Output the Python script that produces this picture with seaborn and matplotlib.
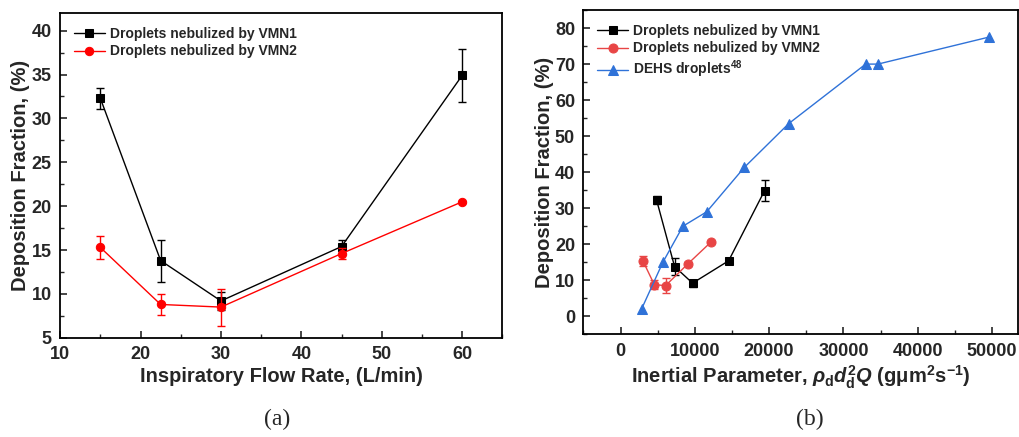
import numpy as np
import pandas as pd
import seaborn as sns
import matplotlib.pyplot as plt
from matplotlib.ticker import MultipleLocator

# panel (a): flow rate data
flow = [15, 22.5, 30, 45, 60]
vmn1 = [32.3, 13.8, 9.2, 15.4, 34.9]
vmn1_err = [1.2, 2.4, 1.0, 0.7, 3.0]
vmn2 = [15.3, 8.8, 8.5, 14.6, 20.5]
vmn2_err = [1.3, 1.2, 2.1, 0.6, 0.1]

# panel (b): inertial parameter
ip_vmn1 = [4850, 7275, 9700, 14550, 19400]
ip_vmn2 = [3030, 4545, 6060, 9090, 12120]
ip_dehs = [2830, 5700, 8400, 11600, 16650, 22650, 33000, 34650, 49600]
dehs = [2.0, 15.0, 25.0, 29.0, 41.3, 53.5, 70.0, 70.0, 77.5]

sns.set_style('ticks')
plt.rcParams['font.family'] = ['Liberation Sans', 'DejaVu Sans']
plt.rcParams['font.weight'] = 'bold'
plt.rcParams['mathtext.fontset'] = 'custom'
plt.rcParams['mathtext.rm'] = 'Liberation Sans:bold'
plt.rcParams['mathtext.it'] = 'Liberation Sans:italic:bold'
plt.rcParams['mathtext.bf'] = 'Liberation Sans:bold'

fig = plt.figure(figsize=(10.19, 4.37), dpi=100)
ax1 = fig.add_axes([0.059, 0.227, 0.434, 0.743])
ax2 = fig.add_axes([0.5725, 0.235, 0.4265, 0.742])

black = '#000000'
red_a = '#ff0000'
red_b = '#e84545'
blue = '#2f72d8'


def series(ax, x, y, err, color, marker, label, ms=6):
    df = pd.DataFrame({'x': x, 'y': y})
    sns.lineplot(data=df, x='x', y='y', ax=ax, color=color, marker=marker,
                 markersize=ms, markeredgecolor=color, linewidth=1,
                 label=label, sort=False)
    if err is not None:
        ax.errorbar(x, y, yerr=err, fmt='none', ecolor=color, elinewidth=1,
                    capsize=3, capthick=1)


series(ax1, flow, vmn1, vmn1_err, black, 's', 'Droplets nebulized by VMN1')
series(ax1, flow, vmn2, vmn2_err, red_a, 'o', 'Droplets nebulized by VMN2')

series(ax2, ip_vmn1, vmn1, vmn1_err, black, 's', 'Droplets nebulized by VMN1')
series(ax2, ip_vmn2, vmn2, vmn2_err, red_b, 'o', 'Droplets nebulized by VMN2', ms=6.5)
series(ax2, ip_dehs, dehs, None, blue, '^', r'DEHS droplets$^{48}$', ms=7)

ax1.set_xlim(10, 65)
ax1.set_ylim(5, 42)
ax1.xaxis.set_major_locator(MultipleLocator(10))
ax1.xaxis.set_minor_locator(MultipleLocator(5))
ax1.yaxis.set_major_locator(MultipleLocator(5))
ax1.yaxis.set_minor_locator(MultipleLocator(2.5))
ax1.set_xlabel('Inspiratory Flow Rate, (L/min)', fontsize=14.5, fontweight='bold')
ax1.set_ylabel('Deposition Fraction, (%)', fontsize=14.5, fontweight='bold')

ax2.set_xlim(-5000, 53500)
ax2.set_ylim(-5, 85)
ax2.xaxis.set_major_locator(MultipleLocator(10000))
ax2.xaxis.set_minor_locator(MultipleLocator(5000))
ax2.yaxis.set_major_locator(MultipleLocator(10))
ax2.yaxis.set_minor_locator(MultipleLocator(5))
ax2.set_xticks([0, 10000, 20000, 30000, 40000, 50000])
ax2.set_yticks([0, 10, 20, 30, 40, 50, 60, 70, 80])
ax2.set_xlabel(r'Inertial Parameter, $\rho_\mathrm{d}d_\mathrm{d}^2Q$ (gμm$^\mathrm{2}$s$^\mathrm{-1}$)',
               fontsize=14.5, fontweight='bold')
ax2.set_ylabel('Deposition Fraction, (%)', fontsize=14.5, fontweight='bold')

for ax in (ax1, ax2):
    for side in ax.spines.values():
        side.set_visible(True)
        side.set_linewidth(1.3)
        side.set_color('black')
    ax.tick_params(which='major', direction='in', length=5, width=1.2,
                   labelsize=13, pad=6, top=False, right=False)
    ax.tick_params(which='minor', direction='in', length=3, width=1.0,
                   top=False, right=False)
    for lbl in ax.get_xticklabels() + ax.get_yticklabels():
        lbl.set_fontweight('bold')
    ax.xaxis.labelpad = 3
    ax.yaxis.labelpad = 1
    ax.legend(loc='upper left', frameon=False,
              handlelength=2.2, handletextpad=0.4, labelspacing=0.25,
              borderaxespad=0.6, prop={'weight': 'bold', 'size': 10})

fig.text(0.272, 0.04, '(a)', fontsize=17, fontweight='normal',
         family='Liberation Serif', ha='center', va='center')
fig.text(0.795, 0.04, '(b)', fontsize=17, fontweight='normal',
         family='Liberation Serif', ha='center', va='center')

fig.savefig('out.png', dpi=100)
